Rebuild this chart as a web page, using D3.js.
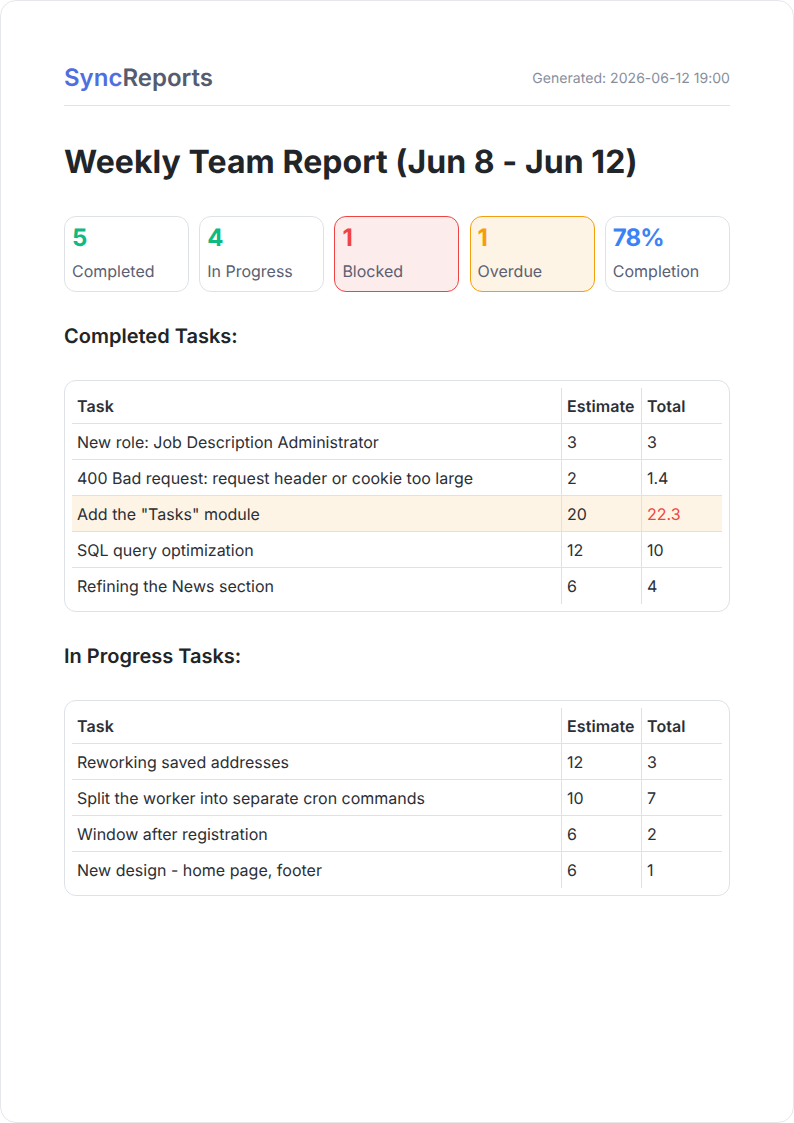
<!DOCTYPE html>
<html lang="en">
<head>
  <meta charset="UTF-8">
  <title>Weekly Team Report</title>
  <style>
    html, body { margin: 0; padding: 0; background: #fff; }
    body { width: 794px; height: 1123px; overflow: hidden; font-family: Inter, sans-serif; color: #212529; text-rendering: geometricPrecision; }
    .page {
      position: relative; box-sizing: border-box; width: 794px; height: 1123px;
      border: 1px solid #e5e7eb; border-radius: 16px; background: #fff;
    }
    .abs { position: absolute; white-space: nowrap; }
    .logo { left: 63px; top: 62px; font-size: 24px; line-height: 30px; font-weight: 600; color: #565c6e; }
    .logo .sync { color: #4f6fdf; }
    .generated { right: 63px; top: 69px; font-size: 14px; line-height: 18px; color: #868e9c; letter-spacing: 0.04px; }
    .rule { left: 63px; top: 104px; width: 666px; height: 1px; background: #dee2e6; }
    h1 { left: 63px; top: 140px; margin: 0; font-size: 32px; line-height: 42px; font-weight: 700; letter-spacing: 0.06px; }
    .stat {
      position: absolute; top: 215px; width: 125px; height: 76px; box-sizing: border-box;
      border: 1px solid #dee2e6; border-radius: 12px;
    }
    .stat .num { position: absolute; left: 7px; top: 6px; font-size: 24px; line-height: 30px; font-weight: 700; letter-spacing: -0.9px; }
    .stat .lab { position: absolute; left: 7px; top: 44px; font-size: 16px; line-height: 20px; color: #5a6072; }
    h2 { left: 63px; margin: 0; font-size: 20px; line-height: 26px; font-weight: 600; }
    .wrap {
      position: absolute; left: 63px; width: 666px; box-sizing: border-box;
      border: 1px solid #dee2e6; border-radius: 12px; padding: 7px;
    }
    table { border-collapse: separate; border-spacing: 0; width: 650px; table-layout: fixed; font-size: 16px; color: #2b2f36; }
    th, td { height: 36px; padding: 0 5px; box-sizing: border-box; text-align: left; border-bottom: 1px solid #dee2e6; }
    th { font-weight: 600; letter-spacing: 0.1px; }
    tr:last-child td { border-bottom: none; }
    th + th, td + td { border-left: 1px solid #dee2e6; }
    tr.late td { background: #fef4e5; }
    td.over { color: #ef4444; }
  </style>
</head>
<body>
  <div class="page" id="page"></div>

  <script src="https://cdn.jsdelivr.net/npm/d3@7"></script>
  <script>
    const statValues = ["5", "4", "1", "1", "78%"];
    const statLabels = ["Completed", "In Progress", "Blocked", "Overdue", "Completion"];

    const columns = ["Task", "Estimate", "Total"];

    const completedTasks = ["New role: Job Description Administrator", "400 Bad request: request header or cookie too large", "Add the \"Tasks\" module", "SQL query optimization", "Refining the News section"];
    const completedEstimate = [3, 2, 20, 12, 6];
    const completedTotal = [3, 1.4, 22.3, 10, 4];

    const progressTasks = ["Reworking saved addresses", "Split the worker into separate cron commands", "Window after registration", "New design - home page, footer"];
    const progressEstimate = [12, 10, 6, 6];
    const progressTotal = [3, 7, 2, 1];

    const page = d3.select("#page");

    // header
    const logo = page.append("div").attr("class", "abs logo");
    logo.append("span").attr("class", "sync").text("Sync");
    logo.append("span").text("Reports");
    page.append("div").attr("class", "abs generated").text("Generated: 2026-06-12 19:00");
    page.append("div").attr("class", "abs rule");
    page.append("h1").attr("class", "abs").text("Weekly Team Report (Jun 8 - Jun 12)");

    // stat cards
    const numColor = ["#10b981", "#10b981", "#ef4444", "#f59e0b", "#3b82f6"];
    const cardBg = ["#fff", "#fff", "#fdecec", "#fef4e5", "#fff"];
    const cardBorder = ["#dee2e6", "#dee2e6", "#ef4444", "#f59e0b", "#dee2e6"];

    const cards = page.selectAll(".stat")
      .data(statValues)
      .enter().append("div")
      .attr("class", "stat")
      .style("left", (d, i) => (63 + i * 135.2) + "px")
      .style("background", (d, i) => cardBg[i])
      .style("border-color", (d, i) => cardBorder[i]);
    cards.append("div").attr("class", "num")
      .style("color", (d, i) => numColor[i])
      .text(d => d);
    cards.append("div").attr("class", "lab")
      .text((d, i) => statLabels[i]);

    // one section = heading + bordered table
    function drawSection(title, top, tasks, estimate, total) {
      page.append("h2").attr("class", "abs").style("top", top + "px").text(title);

      const wrap = page.append("div").attr("class", "wrap").style("top", (top + 57) + "px");
      const table = wrap.append("table");
      const cols = table.append("colgroup");
      cols.append("col").style("width", "489px");
      cols.append("col").style("width", "80px");
      cols.append("col").style("width", "81px");

      table.append("thead").append("tr")
        .selectAll("th")
        .data(columns)
        .enter().append("th")
        .text(d => d);

      const rows = table.append("tbody").selectAll("tr")
        .data(tasks)
        .enter().append("tr")
        .attr("class", (d, i) => total[i] > estimate[i] ? "late" : null);

      rows.append("td").text(d => d);
      rows.append("td").text((d, i) => estimate[i]);
      rows.append("td")
        .attr("class", (d, i) => total[i] > estimate[i] ? "over" : null)
        .text((d, i) => total[i]);
    }

    drawSection("Completed Tasks:", 322, completedTasks, completedEstimate, completedTotal);
    drawSection("In Progress Tasks:", 642, progressTasks, progressEstimate, progressTotal);
  </script>
</body>
</html>
